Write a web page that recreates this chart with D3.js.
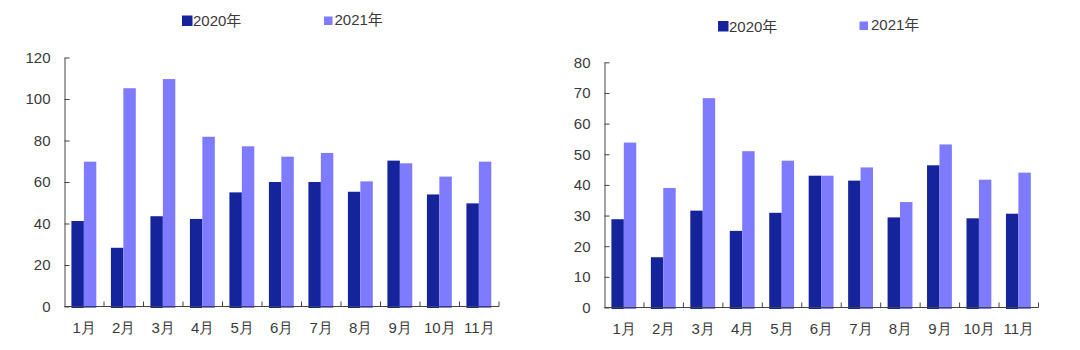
<!DOCTYPE html>
<html>
<head>
<meta charset="utf-8">
<script src="https://cdn.jsdelivr.net/npm/d3@7"></script>
<style>
  html, body { margin: 0; padding: 0; background: #fff; }
  svg { display: block; font-family: "Liberation Sans", Arial, "Noto Sans CJK SC", sans-serif; }
  .axis text { fill: #3a3a3a; font-size: 15px; }
  .axis path, .axis line { stroke: #444; }
  .legend text { fill: #3a3a3a; font-size: 15px; }
</style>
</head>
<body>
<svg id="chart" width="1080" height="350"></svg>
<script>
// Monthly categories and series names
const months = ["1月", "2月", "3月", "4月", "5月", "6月", "7月", "8月", "9月", "10月", "11月"];
const seriesNames = ["2020年", "2021年"];
const seriesColors = ["#15249b", "#7f7bff"];

// Left panel values
const leftValues2020 = [41.2, 28.3, 43.5, 42.2, 55.0, 60.0, 60.0, 55.3, 70.3, 54.0, 49.7];
const leftValues2021 = [69.8, 105.2, 109.6, 81.8, 77.2, 72.2, 74.0, 60.3, 69.0, 62.6, 69.8];
const leftTicks = [0, 20, 40, 60, 80, 100, 120];

// Right panel values
const rightValues2020 = [28.8, 16.4, 31.6, 25.0, 30.9, 43.0, 41.4, 29.4, 46.4, 29.1, 30.6];
const rightValues2021 = [53.8, 39.0, 68.3, 51.0, 47.9, 43.0, 45.7, 34.4, 53.2, 41.7, 44.0];
const rightTicks = [0, 10, 20, 30, 40, 50, 60, 70, 80];

const svg = d3.select("#chart");

function drawPanel(opts) {
  const g = svg.append("g");
  const rows = months.map((m, i) => ({ month: m, values: [opts.a[i], opts.b[i]] }));

  const x0 = d3.scaleBand().domain(months).range([opts.left, opts.right]).padding(0);
  const bw = x0.bandwidth();
  const x1 = d3.scaleBand().domain([0, 1]).range([bw * 0.175, bw * 0.805]).padding(0);
  const y = d3.scaleLinear().domain([0, opts.max]).range([opts.bottom, opts.top]);

  // bars
  const groups = g.selectAll("g.month").data(rows).join("g")
    .attr("class", "month")
    .attr("transform", d => `translate(${x0(d.month)},0)`);
  groups.selectAll("rect").data(d => d.values.map((v, k) => ({ v, k }))).join("rect")
    .attr("x", d => x1(d.k))
    .attr("width", x1.bandwidth())
    .attr("y", d => y(d.v))
    .attr("height", d => y(0) - y(d.v) + 1.5)
    .attr("fill", d => seriesColors[d.k]);

  // y axis, ticks pointing into the plot
  const yAxis = d3.axisLeft(y).tickValues(opts.ticks).tickSize(-5).tickSizeOuter(0).tickPadding(14);
  g.append("g").attr("class", "axis")
    .attr("transform", `translate(${opts.left},0)`)
    .call(yAxis);

  // x axis labels
  const xAxis = d3.axisBottom(x0).tickSize(0).tickPadding(16).tickSizeOuter(0);
  const xg = g.append("g").attr("class", "axis")
    .attr("transform", `translate(0,${opts.bottom})`)
    .call(xAxis);
  xg.select(".domain").attr("d", `M0,0H${opts.right - opts.left}`)
    .attr("transform", `translate(${opts.left},0)`);

  // category separators on the x axis
  g.append("g").attr("class", "axis")
    .selectAll("line").data(months).join("line")
    .attr("x1", d => x0(d) + bw).attr("x2", d => x0(d) + bw)
    .attr("y1", opts.bottom).attr("y2", opts.bottom - 5);

  // legend
  const lg = g.append("g").attr("class", "legend");
  opts.legend.forEach((L, k) => {
    lg.append("rect")
      .attr("x", L.x).attr("y", L.y - L.s).attr("width", L.s).attr("height", L.s)
      .attr("fill", seriesColors[k]);
    lg.append("text")
      .attr("x", L.x + L.s + L.gap).attr("y", L.y)
      .text(seriesNames[k]);
  });
}

drawPanel({
  a: leftValues2020, b: leftValues2021, ticks: leftTicks, max: 120,
  left: 64.5, right: 499, top: 57.5, bottom: 306.5,
  legend: [{ x: 182, y: 26, s: 10.5, gap: 0.5 }, { x: 324, y: 25, s: 8.5, gap: 2 }]
});

drawPanel({
  a: rightValues2020, b: rightValues2021, ticks: rightTicks, max: 80,
  left: 604.5, right: 1038.5, top: 62.3, bottom: 307.5,
  legend: [{ x: 718, y: 31.5, s: 10.5, gap: 0.5 }, { x: 859.5, y: 30, s: 8.5, gap: 3 }]
});
</script>
</body>
</html>
